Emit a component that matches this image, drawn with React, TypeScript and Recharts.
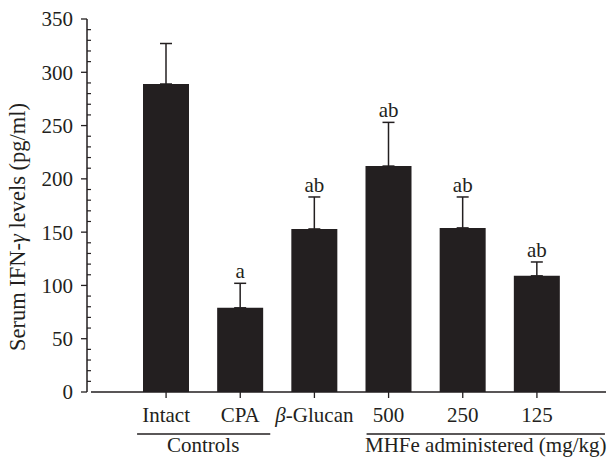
import React from 'react';
import { ComposedChart, Bar, Line, XAxis, YAxis, ErrorBar, LabelList } from 'recharts';

const categories = ['Intact', 'CPA', 'β-Glucan', '500', '250', '125'];
const means = [289, 79, 153, 212, 154, 109];
const errors = [38, 23, 30, 41, 29, 13];
const significance = ['', 'a', 'ab', 'ab', 'ab', 'ab'];
const yMajorTicks = [0, 50, 100, 150, 200, 250, 300, 350];
const yMinorTicks = [10, 20, 30, 40, 60, 70, 80, 90, 110, 120, 130, 140, 160, 170, 180, 190, 210, 220, 230, 240, 260, 270, 280, 290, 310, 320, 330, 340];
const groupLabels = ['Controls', 'MHFe administered (mg/kg)'];
const groupFirst = [0, 3];
const groupLast = [1, 5];
const yLabel = 'Serum IFN-γ levels (pg/ml)';

const data = categories.map((c, i) => ({
  name: c,
  mean: means[i],
  err: [0, errors[i]],
  top: means[i] + errors[i],
  sig: significance[i],
}));

// layout constants
const W = 610;
const H = 461;
const M = { top: 19, right: 4, bottom: 0, left: 0 };
const Y_AXIS_W = 87;
const X_AXIS_H = 69;
const PAD_L = 42;
const PAD_R = 32;
const STEP = (W - M.right - M.left - Y_AXIS_W - PAD_L - PAD_R) / categories.length;
const INK = '#231f20';
const FONT = '"Liberation Serif", "Times New Roman", serif';
const FS = 21;
const FS_Y = 22.5;
const GROUP_EXT = [
  { left: 29, right: 30, anchor: 'middle', tx: 0 },
  { left: 22, right: 68, anchor: 'middle', tx: 23 },
];

const XTick = (props: any) => {
  const { x, y, payload } = props;
  const idx = payload.index;
  const label = String(payload.value);
  const axisY = y - 8;
  const gi = groupFirst.indexOf(idx);
  let group = null;
  if (gi >= 0) {
    const x0 = x;
    const x1 = x + (groupLast[gi] - groupFirst[gi]) * STEP;
    const ext = GROUP_EXT[gi];
    const mid = (x0 + x1) / 2 + ext.tx;
    group = (
      <g>
        <line x1={x0 - ext.left} x2={x1 + ext.right} y1={axisY + 42} y2={axisY + 42} stroke={INK} strokeWidth={1.3} />
        <text x={mid} y={axisY + 60} textAnchor={ext.anchor} fill={INK} fontSize={FS} fontFamily={FONT}>
          {groupLabels[gi]}
        </text>
      </g>
    );
  }
  return (
    <g>
      <text x={x} y={axisY + 30} textAnchor="middle" fill={INK} fontSize={FS} fontFamily={FONT}>
        {label.startsWith('β') ? (
          <>
            <tspan fontStyle="italic">β</tspan>
            <tspan>{label.slice(1)}</tspan>
          </>
        ) : (
          label
        )}
      </text>
      {group}
    </g>
  );
};

const YLabel = (props: any) => {
  const cx = 25;
  const cy = 227;
  return (
    <text
      x={cx}
      y={cy}
      transform={`rotate(-90 ${cx} ${cy})`}
      textAnchor="middle"
      fill={INK}
      fontSize={FS_Y}
      fontFamily={FONT}
    >
      {yLabel.split('γ')[0]}
      <tspan fontStyle="italic">γ</tspan>
      {yLabel.split('γ')[1]}
    </text>
  );
};

export default function App() {
  return (
    <div style={{ position: 'absolute', left: 0, top: 0, background: '#fff' }}>
      <ComposedChart width={W} height={H} data={data} margin={M}>
        <XAxis
          dataKey="name"
          height={X_AXIS_H}
          padding={{ left: PAD_L, right: PAD_R }}
          tickSize={6}
          tickMargin={2}
          interval={0}
          tick={<XTick />}
          axisLine={{ stroke: INK, strokeWidth: 1.5, strokeDasharray: '0 4 2000' }}
          tickLine={{ stroke: INK, strokeWidth: 1.3 }}
        />
        <YAxis
          yAxisId="major"
          type="number"
          width={Y_AXIS_W}
          domain={[0, 350]}
          ticks={yMajorTicks}
          interval={0}
          tickSize={6}
          tickMargin={8}
          axisLine={{ stroke: INK, strokeWidth: 1.5 }}
          tickLine={{ stroke: INK, strokeWidth: 1.3 }}
          tick={{ fill: INK, fontSize: FS, fontFamily: FONT }}
          label={<YLabel />}
        />
        <YAxis
          yAxisId="minor"
          type="number"
          mirror
          width={10}
          domain={[0, 350]}
          allowDataOverflow
          ticks={yMinorTicks}
          interval={0}
          tickSize={4}
          tickMargin={0}
          axisLine={false}
          tick={{ fontSize: 1, fill: 'none' }}
          tickFormatter={() => ''}
          tickLine={{ stroke: INK, strokeWidth: 1.2 }}
        />
        <Bar yAxisId="major" dataKey="mean" fill={INK} barSize={46} isAnimationActive={false}>
          <ErrorBar dataKey="err" width={6} stroke={INK} strokeWidth={1.5} direction="y" />
        </Bar>
        <Line
          yAxisId="major"
          dataKey="top"
          stroke="none"
          dot={false}
          activeDot={false}
          legendType="none"
          isAnimationActive={false}
        >
          <LabelList dataKey="sig" position="top" offset={5} fill={INK} fontSize={FS} fontFamily={FONT} />
        </Line>
      </ComposedChart>
    </div>
  );
}
